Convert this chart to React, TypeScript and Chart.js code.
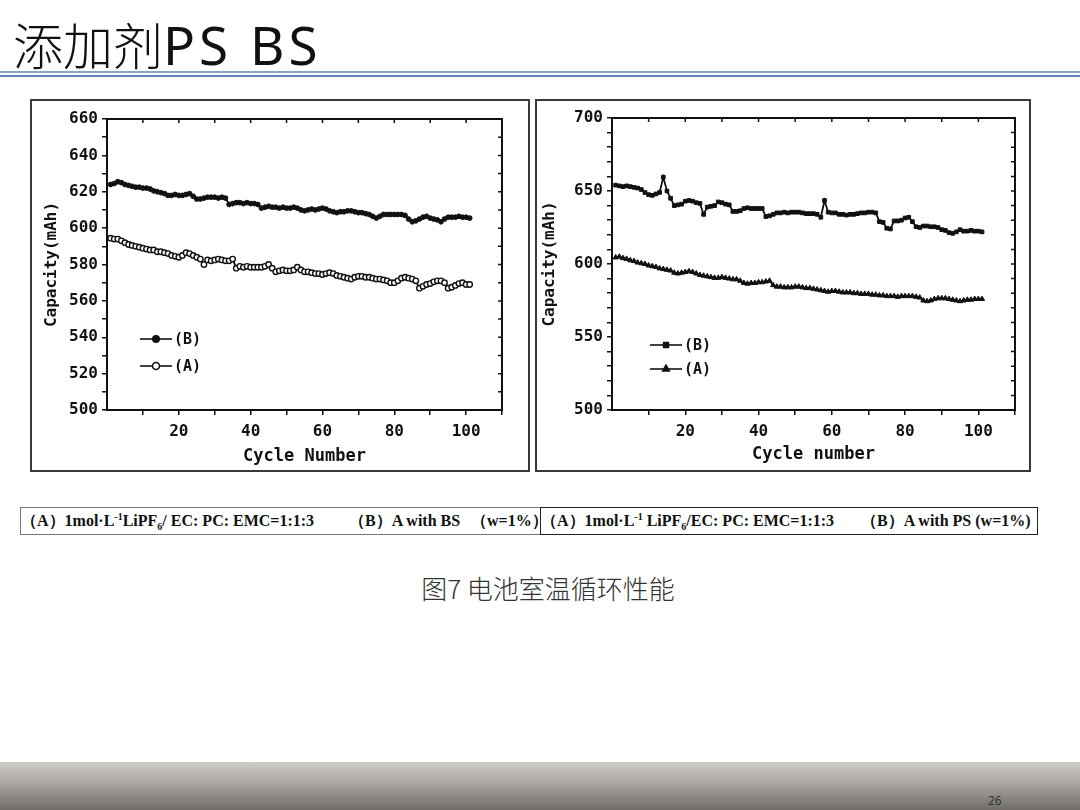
import React, { useRef, useEffect } from 'react';
import Chart from 'chart.js/auto';
import { drawPoint } from 'chart.js/helpers';

// cycle numbers shared by all four series
const cycles = [
  1, 2, 3, 4, 5, 6, 7, 8, 9, 10, 11, 12, 13, 14, 15, 16, 17, 18, 19, 20,
  21, 22, 23, 24, 25, 26, 27, 28, 29, 30, 31, 32, 33, 34, 35, 36, 37, 38, 39, 40,
  41, 42, 43, 44, 45, 46, 47, 48, 49, 50, 51, 52, 53, 54, 55, 56, 57, 58, 59, 60,
  61, 62, 63, 64, 65, 66, 67, 68, 69, 70, 71, 72, 73, 74, 75, 76, 77, 78, 79, 80,
  81, 82, 83, 84, 85, 86, 87, 88, 89, 90, 91, 92, 93, 94, 95, 96, 97, 98, 99, 100,
  101,
];

// left panel: (B) A with BS, (A) base electrolyte
const bsWith = [
  624, 624.5, 625.5, 625, 624, 623.5, 623, 622.5, 622.5, 622,
  622, 621.5, 620.5, 620, 619.5, 619, 618, 618, 618.5, 618,
  618, 618.5, 619, 617.5, 616, 616, 616.5, 617, 617, 617,
  616.5, 617, 616.5, 613, 613.5, 614, 614, 613.5, 614, 613.5,
  613.5, 613, 611, 611.5, 612, 611.5, 611.5, 611, 611.5, 611,
  611, 611.5, 611, 610, 609.5, 610, 610.5, 610, 610.5, 611,
  610.5, 609.5, 609, 608.5, 609, 609, 609.5, 609.5, 609, 608.5,
  608.5, 608, 607.5, 606.5, 605.5, 606.5, 607.5, 607.5, 607.5, 607.5,
  607.5, 607.5, 607, 605, 603.5, 604, 605, 606, 606.5, 605.5,
  605, 604.5, 603.5, 605, 606, 606, 606, 606.5, 606, 606,
  605.5,
];
const bsBase = [
  594.5, 594, 594, 593, 592, 591, 590.5, 590, 589.5, 589,
  588.5, 588, 588, 587, 587, 586.5, 586, 585, 584.5, 584,
  585, 586.5, 586, 585, 584, 583, 580, 582.5, 582, 582.5,
  583, 582.5, 582, 582, 583, 578, 579, 578.5, 579, 578.5,
  578.5, 578.5, 578.5, 579, 580, 578, 576, 576.5, 577, 576.5,
  576.5, 577, 578.5, 577, 576, 576, 575.5, 575, 575, 574.5,
  575, 575.5, 575, 574, 573.5, 573, 572.5, 572, 573, 573.5,
  573.5, 573, 573, 572.5, 572, 572, 571.5, 571, 570, 570,
  571, 572.5, 573, 572.5, 572, 571, 567, 568, 569, 569.5,
  570.5, 571, 571, 570, 567, 567.5, 568.5, 569.5, 570, 569,
  569,
];

// right panel: (B) A with PS, (A) base electrolyte
const psWith = [
  654, 653.5, 653, 653.5, 653, 652.5, 652, 651, 649, 647.5,
  647, 648, 649, 659.5, 650, 645, 640, 640.5, 641, 643,
  643.5, 643, 642, 641.5, 634, 639, 639.5, 640, 642.5, 642,
  641, 640.5, 636, 636, 636.5, 638, 638.5, 638, 638, 638,
  638, 632.5, 633, 634, 635, 635, 635.5, 635, 635.5, 635.5,
  635.5, 635, 634.5, 634.5, 634.5, 634, 632, 643.5, 635.5, 635,
  635, 634, 634, 633.5, 634, 634, 634.5, 635, 635, 635.5,
  635.5, 635, 629, 628.5, 624.5, 624, 629.5, 629.5, 630, 631.5,
  632, 629, 625.5, 625, 626, 626, 625.5, 625.5, 625, 623.5,
  623, 621.5, 621, 622, 623.5, 622.5, 622.5, 623, 622.5, 622.5,
  622,
];
const psBase = [
  604.5, 605, 604, 603.5, 602.5, 602, 601, 600.5, 600, 599,
  598.5, 598, 597, 596.5, 596, 595.5, 594, 593.5, 594, 594.5,
  595, 594.5, 593.5, 592.5, 592, 591.5, 591, 590.5, 590.5, 591,
  590.5, 590, 589.5, 589.5, 588.5, 587, 586.5, 587, 587, 587.5,
  587.5, 588, 588.5, 585.5, 584.5, 584.5, 584, 584, 584, 584.5,
  584.5, 584, 583.5, 583.5, 583, 582.5, 582, 581.5, 581, 581.5,
  581.5, 581, 580.5, 580.5, 580.5, 580, 580, 579.5, 579.5, 579.5,
  579, 579, 578.5, 578.5, 578, 578, 578, 577.5, 578, 578,
  578, 578, 577.5, 577, 575, 574.5, 575, 576, 576.5, 576.5,
  576.5, 576, 575.5, 575, 574.5, 575, 575.5, 575.5, 576, 576,
  576,
];

// axis ticks
const cycleTicks = [10, 20, 30, 40, 50, 60, 70, 80, 90, 100, 110];
const cycleLabels = [20, 40, 60, 80, 100];
const bsCapTicks = [500, 510, 520, 530, 540, 550, 560, 570, 580, 590, 600, 610, 620, 630, 640, 650, 660];
const bsCapLabels = [500, 520, 540, 560, 580, 600, 620, 640, 660];
const psCapTicks = [500, 510, 520, 530, 540, 550, 560, 570, 580, 590, 600, 610, 620, 630, 640, 650, 660, 670, 680, 690, 700];
const psCapLabels = [500, 550, 600, 650, 700];

const INK = '#111';
const MONO = '"DejaVu Sans Mono", "Liberation Mono", monospace';

const toPoints = (xs: number[], ys: number[]) => xs.map((x, i) => ({ x, y: ys[i] }));

// frame round the plot, inner ticks on top/right, and the legend inside the plot
const framePlugin = {
  id: 'frame',
  afterDraw(chart: any, _args: any, opts: any) {
    const { ctx, chartArea: a, scales } = chart;
    ctx.save();
    ctx.strokeStyle = INK;
    ctx.lineWidth = 2;
    ctx.strokeRect(a.left, a.top, a.right - a.left, a.bottom - a.top);
    ctx.lineWidth = 1.5;
    ctx.beginPath();
    scales.x.ticks.forEach((t: any) => {
      const px = scales.x.getPixelForValue(t.value);
      ctx.moveTo(px, a.top);
      ctx.lineTo(px, a.top + 4);
    });
    scales.y.ticks.forEach((t: any) => {
      const py = scales.y.getPixelForValue(t.value);
      ctx.moveTo(a.right, py);
      ctx.lineTo(a.right - 4, py);
    });
    ctx.stroke();

    // legend
    const { x, y, gap } = opts;
    chart.data.datasets.forEach((ds: any, i: number) => {
      const ly = y + i * gap;
      ctx.strokeStyle = INK;
      ctx.lineWidth = 1.6;
      ctx.beginPath();
      ctx.moveTo(x, ly);
      ctx.lineTo(x + 32, ly);
      ctx.stroke();
      ctx.fillStyle = ds.pointBackgroundColor;
      ctx.strokeStyle = ds.pointBorderColor;
      drawPoint(ctx, {
        pointStyle: ds.pointStyle,
        radius: ds.pointRadius + 0.8,
        rotation: 0,
        borderWidth: ds.pointBorderWidth,
      }, x + 16, ly);
      ctx.fillStyle = INK;
      ctx.font = `bold 15px ${MONO}`;
      ctx.textBaseline = 'middle';
      ctx.fillText(ds.label, x + 34, ly + 1);
    });
    ctx.restore();
  },
};

type PanelProps = {
  left: number;
  width: number;
  seriesB: number[];
  seriesA: number[];
  styleB: any;
  styleA: any;
  yMax: number;
  yTicks: number[];
  yLabels: number[];
  xTitle: string;
  rightPad: number;
  topPad: number;
  yTitlePad: number;
  xTitlePad: number;
  legend: { x: number; y: number; gap: number };
};

const Panel = (p: PanelProps) => {
  const chartRef = useRef<HTMLCanvasElement>(null);
  const innerW = p.width - 4;
  const innerH = 369;

  useEffect(() => {
    if (!chartRef.current) return;
    const tickFont = { family: MONO, size: 16, weight: 'bold' as const };
    const myChart = new Chart(chartRef.current, {
      type: 'line',
      data: {
        datasets: [
          {
            label: '(B)',
            data: toPoints(cycles, p.seriesB),
            borderColor: INK,
            borderWidth: 1.8,
            tension: 0,
            ...p.styleB,
          },
          {
            label: '(A)',
            data: toPoints(cycles, p.seriesA),
            borderColor: INK,
            borderWidth: 1.8,
            tension: 0,
            ...p.styleA,
          },
        ],
      },
      options: {
        animation: false,
        responsive: false,
        layout: { padding: { left: 0, top: p.topPad, right: p.rightPad, bottom: 0 } },
        plugins: {
          legend: { display: false },
          tooltip: { enabled: false },
          frame: p.legend,
        } as any,
        scales: {
          x: {
            type: 'linear',
            min: 0,
            max: 110,
            afterBuildTicks: (s: any) => {
              s.ticks = cycleTicks.map((v) => ({ value: v }));
            },
            afterFit: (s: any) => {
              s.height = 60;
            },
            ticks: {
              autoSkip: false,
              maxRotation: 0,
              padding: 7,
              color: INK,
              font: tickFont,
              callback: (v: any) => (cycleLabels.includes(v) ? String(v) : ''),
            },
            grid: { drawOnChartArea: false, tickLength: 5, color: INK, lineWidth: 1.5 },
            border: { color: INK, width: 2 },
            title: {
              display: true,
              text: p.xTitle,
              color: INK,
              font: { family: MONO, size: 17, weight: 'bold' },
              padding: { top: 0, bottom: p.xTitlePad },
            },
          },
          y: {
            type: 'linear',
            min: 500,
            max: p.yMax,
            afterBuildTicks: (s: any) => {
              s.ticks = p.yTicks.map((v) => ({ value: v }));
            },
            afterFit: (s: any) => {
              s.width = 75;
            },
            ticks: {
              autoSkip: false,
              padding: 4,
              color: INK,
              font: tickFont,
              callback: (v: any) => (p.yLabels.includes(v) ? String(v) : ''),
            },
            grid: { drawOnChartArea: false, tickLength: 5, color: INK, lineWidth: 1.5 },
            border: { color: INK, width: 2 },
            title: {
              display: true,
              text: 'Capacity(mAh)',
              color: INK,
              font: { family: MONO, size: 16, weight: 'bold' },
              padding: { top: p.yTitlePad, bottom: 0 },
            },
          },
        },
      },
      plugins: [framePlugin],
    } as any);
    return () => myChart.destroy();
  }, []);

  return (
    <div
      style={{
        position: 'absolute',
        left: p.left,
        top: 99,
        width: p.width,
        height: 373,
        boxSizing: 'border-box',
        border: '2px solid #3a3a3a',
        background: '#fff',
      }}
    >
      <canvas ref={chartRef} width={innerW} height={innerH} style={{ width: innerW, height: innerH, display: 'block' }} />
    </div>
  );
};

const captionText: React.CSSProperties = {
  position: 'absolute',
  top: 0,
  lineHeight: '25px',
  whiteSpace: 'nowrap',
  fontFamily: '"Liberation Serif", "Times New Roman", serif',
  fontWeight: 'bold',
  fontSize: 16,
  color: '#111',
};
const supStyle: React.CSSProperties = { fontSize: 10, lineHeight: 0 };

const App = () => {
  return (
    <div
      style={{
        position: 'absolute',
        left: 0,
        top: 0,
        width: 1080,
        height: 810,
        overflow: 'hidden',
        background: '#fff',
      }}
    >
      <div
        style={{
          position: 'absolute',
          left: 13,
          top: 12,
          lineHeight: '62px',
          color: '#111',
          whiteSpace: 'nowrap',
        }}
      >
        <span style={{ fontFamily: '"Noto Sans CJK SC", sans-serif', fontWeight: 300, fontSize: 50 }}>添加剂</span>
        <span style={{ fontFamily: '"Noto Sans", sans-serif', fontWeight: 400, fontSize: 53, letterSpacing: 4 }}>PS BS</span>
      </div>
      <div style={{ position: 'absolute', left: 0, top: 71, width: 1080, height: 2, background: '#8aa3c2' }} />
      <div style={{ position: 'absolute', left: 0, top: 75, width: 1080, height: 2, background: '#5c82ad' }} />

      <Panel
        left={30}
        width={500}
        seriesB={bsWith}
        seriesA={bsBase}
        styleB={{ pointStyle: 'circle', pointRadius: 2.4, pointBackgroundColor: INK, pointBorderColor: INK, pointBorderWidth: 1 }}
        styleA={{ pointStyle: 'circle', pointRadius: 2.7, pointBackgroundColor: '#fff', pointBorderColor: INK, pointBorderWidth: 1.4 }}
        yMax={660}
        yTicks={bsCapTicks}
        yLabels={bsCapLabels}
        xTitle="Cycle Number"
        rightPad={26}
        topPad={18}
        yTitlePad={10}
        xTitlePad={3}
        legend={{ x: 108, y: 238, gap: 27 }}
      />
      <Panel
        left={535}
        width={496}
        seriesB={psWith}
        seriesA={psBase}
        styleB={{ pointStyle: 'rect', pointRadius: 2.6, pointBackgroundColor: INK, pointBorderColor: INK, pointBorderWidth: 1 }}
        styleA={{ pointStyle: 'triangle', pointRadius: 3, pointBackgroundColor: INK, pointBorderColor: INK, pointBorderWidth: 1 }}
        yMax={700}
        yTicks={psCapTicks}
        yLabels={psCapLabels}
        xTitle="Cycle number"
        rightPad={14}
        topPad={17}
        yTitlePad={3}
        xTitlePad={5}
        legend={{ x: 113, y: 244, gap: 24 }}
      />

      <div style={{ position: 'absolute', left: 20, top: 507, width: 521, height: 28, boxSizing: 'border-box', border: '1.5px solid #777' }}>
        <span style={{ ...captionText, left: 0 }}>
          （A）1mol·L<sup style={supStyle}>-1</sup>LiPF<sub style={supStyle}>6</sub>/ EC: PC: EMC=1:1:3
        </span>
        <span style={{ ...captionText, left: 328 }}>（B）A with BS</span>
        <span style={{ ...captionText, left: 450 }}>（w=1%）</span>
      </div>
      <div style={{ position: 'absolute', left: 540, top: 507, width: 498, height: 28, boxSizing: 'border-box', border: '1.5px solid #222' }}>
        <span style={{ ...captionText, left: 0 }}>
          （A）1mol·L<sup style={supStyle}>-1</sup> LiPF<sub style={supStyle}>6</sub>/EC: PC: EMC=1:1:3
        </span>
        <span style={{ ...captionText, left: 320 }}>（B）A with PS (w=1%)</span>
      </div>

      <div
        style={{
          position: 'absolute',
          left: 0,
          width: 1080,
          top: 569,
          textAlign: 'center',
          fontSize: 26,
          lineHeight: '38px',
          color: '#333',
          fontFamily: '"Noto Sans CJK SC", sans-serif',
          fontWeight: 300,
          paddingLeft: 16,
          boxSizing: 'border-box',
        }}
      >
        图7 电池室温循环性能
      </div>

      <div
        style={{
          position: 'absolute',
          left: 0,
          top: 762,
          width: 1080,
          height: 48,
          background: 'linear-gradient(#d0cdc8, #a9a6a1 45%, #6f6c69)',
        }}
      />
      <div
        style={{
          position: 'absolute',
          left: 988,
          top: 792,
          fontSize: 12,
          color: '#333',
          fontFamily: '"Noto Sans", sans-serif',
        }}
      >
        26
      </div>
    </div>
  );
};

export default App;
